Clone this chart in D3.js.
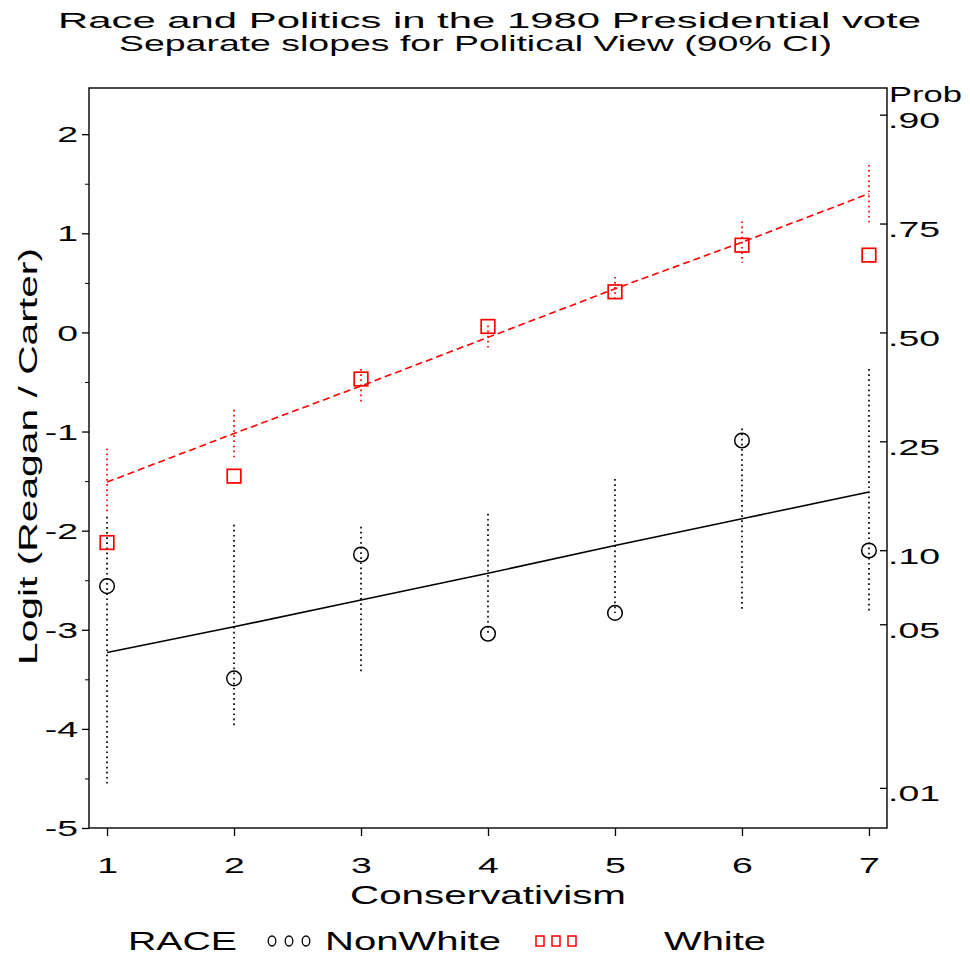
<!DOCTYPE html>
<html>
<head>
<meta charset="utf-8">
<script src="https://cdn.jsdelivr.net/npm/d3@7"></script>
<style>
  html, body { margin: 0; padding: 0; background: #fff; }
  svg text { font-family: "Liberation Sans", Arial, Helvetica, sans-serif; fill: #000; }
</style>
</head>
<body>
<svg id="chart" width="970" height="959"></svg>
<script>
// Conservativism scale (1 = most liberal, 7 = most conservative)
const conservativism = [1, 2, 3, 4, 5, 6, 7];

// NonWhite voters: observed logits, fitted logits and 90% confidence limits
const nonWhiteObserved = [-2.56, -3.49, -2.24, -3.04, -2.83, -1.09, -2.20];
const nonWhiteFitted   = [-3.23, -2.97, -2.70, -2.43, -2.15, -1.88, -1.61];
const nonWhiteLower    = [-4.55, -3.98, -3.44, -3.03, -2.83, -2.80, -2.82];
const nonWhiteUpper    = [-1.86, -1.94, -1.96, -1.83, -1.48, -0.97, -0.37];

// White voters
const whiteObserved = [-2.12, -1.45, -0.47, 0.06, 0.41, 0.88, 0.78];
const whiteFitted   = [-1.51, -1.02, -0.54, -0.05, 0.44, 0.91, 1.40];
const whiteLower    = [-1.84, -1.26, -0.72, -0.18, 0.32, 0.70, 1.11];
const whiteUpper    = [-1.17, -0.78, -0.37, 0.07, 0.56, 1.12, 1.69];

// Axis ticks
const logitTicks = [-5, -4, -3, -2, -1, 0, 1, 2];
const logitMinorTicks = [-4.5, -3.5, -2.5, -1.5, -0.5, 0.5, 1.5];
const probTicks = [0.01, 0.05, 0.10, 0.25, 0.50, 0.75, 0.90];
const probLabels = [".01", ".05", ".10", ".25", ".50", ".75", ".90"];

const svg = d3.select("#chart");
const frame = { left: 89, right: 887, top: 88, bottom: 828 };
const SX = 1.7; // horizontal stretch of the wide lettering

const x = d3.scaleLinear().domain([0.858, 7.142]).range([frame.left, frame.right]);
const y = d3.scaleLinear().domain([-5, 2.466]).range([frame.bottom, frame.top]);
const logit = p => Math.log(p / (1 - p));

const groups = [
  { name: "NonWhite", color: "#000000", obs: nonWhiteObserved, fit: nonWhiteFitted,
    lo: nonWhiteLower, hi: nonWhiteUpper, dash: null, shape: "circle" },
  { name: "White", color: "#ff0000", obs: whiteObserved, fit: whiteFitted,
    lo: whiteLower, hi: whiteUpper, dash: "7,4", shape: "square" }
];

// ---- Titles ----
function wideText(px, py, str, size, anchor, len) {
  return svg.append("text")
    .attr("x", px).attr("y", py)
    .attr("font-size", size)
    .attr("text-anchor", anchor)
    .attr("textLength", len)
    .attr("lengthAdjust", "spacingAndGlyphs")
    .text(str);
}
wideText(489.5, 28, "Race and Politics in the 1980 Presidential vote", 22, "middle", 863);
wideText(475.5, 51, "Separate slopes for Political View (90% CI)", 22, "middle", 713);

// ---- Axes ----
function stretchLabels(g, dx, dy, anchor) {
  g.selectAll(".tick text")
    .attr("x", dx / SX).attr("y", dy).attr("dy", 0)
    .attr("transform", `scale(${SX},1)`)
    .attr("text-anchor", anchor)
    .attr("font-size", 22)
    .attr("font-family", null);
}

const gLeft = svg.append("g").attr("transform", `translate(${frame.left},0)`)
  .call(d3.axisLeft(y).tickValues(logitTicks).tickFormat(d => String(d)).tickSize(7).tickSizeOuter(0));
stretchLabels(gLeft, -11, 7.6, "end");

svg.append("g").attr("transform", `translate(${frame.left},0)`)
  .call(d3.axisLeft(y).tickValues(logitMinorTicks).tickFormat("").tickSize(4).tickSizeOuter(0))
  .call(g => g.select(".domain").remove());

const gBottom = svg.append("g").attr("transform", `translate(0,${frame.bottom})`)
  .call(d3.axisBottom(x).tickValues(conservativism).tickFormat(d => String(d)).tickSize(8).tickSizeOuter(0));
stretchLabels(gBottom, 0, 45, "middle");

const gRight = svg.append("g").attr("transform", `translate(${frame.right},0)`)
  .call(d3.axisRight(y).tickValues(probTicks.map(logit))
    .tickFormat((d, i) => probLabels[i]).tickSize(-7).tickSizeOuter(0));
stretchLabels(gRight, 1, 13, "start");

[gLeft, gBottom, gRight].forEach(g => {
  g.selectAll("line").attr("stroke", "#000").attr("stroke-width", 1.3);
  g.select(".domain").remove();
});

// Plot frame
svg.append("rect")
  .attr("x", frame.left).attr("y", frame.top)
  .attr("width", frame.right - frame.left).attr("height", frame.bottom - frame.top)
  .attr("fill", "none").attr("stroke", "#000").attr("stroke-width", 1.4);

// Axis titles
wideText(889, 102, "Prob", 22, "start", 73);
wideText(488, 904, "Conservativism", 25, "middle", 276);
svg.append("text")
  .attr("transform", "translate(37,456.5) rotate(-90)")
  .attr("font-size", 25).attr("text-anchor", "middle")
  .attr("textLength", 417).attr("lengthAdjust", "spacingAndGlyphs")
  .text("Logit (Reagan / Carter)");

// ---- Data marks ----
const plot = svg.append("g");
groups.forEach(grp => {
  const rows = conservativism.map((c, i) => ({
    c, obs: grp.obs[i], fit: grp.fit[i], lo: grp.lo[i], hi: grp.hi[i]
  }));

  // 90% confidence intervals about the fitted values
  plot.selectAll(null).data(rows).join("line")
    .attr("x1", d => x(d.c)).attr("x2", d => x(d.c))
    .attr("y1", d => y(d.hi)).attr("y2", d => y(d.lo))
    .attr("stroke", grp.color).attr("stroke-width", 1.7)
    .attr("stroke-dasharray", "1.7,3.4");

  // Fitted line
  plot.append("path")
    .datum(rows)
    .attr("d", d3.line().x(d => x(d.c)).y(d => y(d.fit)))
    .attr("fill", "none").attr("stroke", grp.color).attr("stroke-width", 1.6)
    .attr("stroke-dasharray", grp.dash);

  // Observed logits
  if (grp.shape === "circle") {
    plot.selectAll(null).data(rows).join("circle")
      .attr("cx", d => x(d.c)).attr("cy", d => y(d.obs)).attr("r", 7.3)
      .attr("fill", "none").attr("stroke", grp.color).attr("stroke-width", 1.5);
  } else {
    plot.selectAll(null).data(rows).join("rect")
      .attr("x", d => x(d.c) - 6.8).attr("y", d => y(d.obs) - 6.8)
      .attr("width", 13.6).attr("height", 13.6)
      .attr("fill", "none").attr("stroke", grp.color).attr("stroke-width", 1.7);
  }
});

// ---- Legend ----
const legY = 941;
wideText(128, 950, "RACE", 25, "start", 109);
[272, 289, 306].forEach(cx => {
  svg.append("ellipse").attr("cx", cx).attr("cy", legY).attr("rx", 3.8).attr("ry", 5)
    .attr("fill", "none").attr("stroke", "#000").attr("stroke-width", 1.3);
});
wideText(325, 950, "NonWhite", 25, "start", 176);
[540, 556, 572].forEach(cx => {
  svg.append("rect").attr("x", cx - 4).attr("y", legY - 5).attr("width", 8).attr("height", 10)
    .attr("fill", "none").attr("stroke", "#ff0000").attr("stroke-width", 1.5);
});
wideText(664, 950, "White", 25, "start", 102);
</script>
</body>
</html>
